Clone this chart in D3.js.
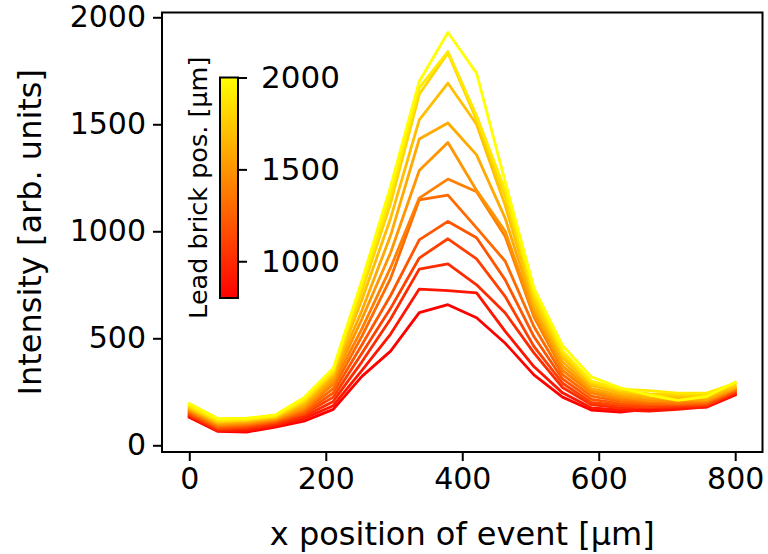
<!DOCTYPE html>
<html>
<head>
<meta charset="utf-8">
<script src="https://cdn.jsdelivr.net/npm/d3@7"></script>
<style>
  body { margin: 0; background: #fff; }
  text { font-family: "DejaVu Sans", sans-serif; fill: #000; }
</style>
</head>
<body>
<div id="chart"></div>
<script>
// x positions of the scan [um]
var xPositions = [0, 42, 84, 126, 168, 211, 253, 295, 337, 379, 421, 463, 505, 547, 589, 632, 674, 716, 758, 800];

// lead brick positions [um], one curve each
var brickPositions = [800, 900, 1000, 1100, 1200, 1300, 1400, 1500, 1600, 1700, 1800, 1900, 2000];

var int800  = [130, 65, 62, 85, 113, 168, 322, 440, 620, 657, 596, 477, 329, 225, 165, 155, 170, 175, 178, 235];
var int900  = [135, 68, 70, 92, 125, 185, 350, 520, 730, 723, 712, 532, 368, 245, 175, 165, 160, 168, 180, 240];
var int1000 = [140, 72, 78, 98, 135, 205, 390, 590, 823, 848, 750, 618, 432, 270, 190, 175, 175, 178, 185, 245];
var int1100 = [145, 78, 85, 105, 145, 225, 430, 640, 875, 965, 871, 695, 462, 290, 200, 185, 180, 185, 190, 250];
var int1200 = [150, 82, 90, 110, 150, 245, 470, 700, 960, 1046, 970, 773, 508, 310, 215, 195, 190, 190, 195, 255];
var int1300 = [155, 88, 95, 115, 160, 265, 510, 780, 1147, 1169, 1016, 860, 555, 330, 230, 205, 195, 195, 200, 258];
var int1400 = [160, 92, 100, 118, 168, 285, 545, 830, 1155, 1244, 1185, 976, 600, 350, 245, 215, 205, 200, 205, 262];
var int1500 = [165, 98, 105, 122, 175, 300, 590, 900, 1284, 1415, 1191, 1000, 618, 370, 255, 225, 210, 210, 210, 266];
var int1600 = [170, 102, 110, 126, 185, 315, 630, 980, 1431, 1506, 1357, 1060, 640, 390, 265, 235, 220, 215, 215, 270];
var int1700 = [175, 108, 115, 130, 195, 330, 680, 1060, 1521, 1692, 1500, 1120, 665, 410, 280, 245, 230, 225, 225, 275];
var int1800 = [180, 112, 118, 134, 205, 340, 720, 1130, 1640, 1833, 1520, 1160, 690, 425, 290, 255, 240, 235, 235, 282];
var int1900 = [185, 118, 122, 137, 212, 350, 745, 1170, 1670, 1840, 1540, 1190, 712, 440, 300, 262, 255, 244, 244, 290];
var int2000 = [195, 125, 127, 142, 222, 360, 770, 1210, 1700, 1929, 1739, 1230, 735, 465, 320, 268, 235, 210, 228, 295];

var intensities = [int800, int900, int1000, int1100, int1200, int1300, int1400,
                   int1500, int1600, int1700, int1800, int1900, int2000];

var xTicks = [0, 200, 400, 600, 800];
var yTicks = [0, 500, 1000, 1500, 2000];
var cbTicks = [1000, 1500, 2000];

var width = 768, height = 554;
var margin = {top: 12.5, right: 5.5, bottom: 102, left: 162};
var plotW = width - margin.left - margin.right,
    plotH = height - margin.top - margin.bottom;

var svg = d3.select("#chart").append("svg")
    .attr("width", width)
    .attr("height", height);

// matplotlib style 5% margins
var xExt = d3.extent(xPositions);
var xPad = (xExt[1] - xExt[0]) * 0.05;
var allY = d3.merge(intensities);
var yExt = d3.extent(allY);
var yPad = (yExt[1] - yExt[0]) * 0.05;

var x = d3.scaleLinear()
    .domain([xExt[0] - xPad, xExt[1] + xPad])
    .range([0, plotW]);
var y = d3.scaleLinear()
    .domain([yExt[0] - yPad, yExt[1] + yPad])
    .range([plotH, 0]);

// autumn colormap: red -> yellow
var cbDomain = d3.extent(brickPositions);
var autumn = function(v) {
    var t = (v - cbDomain[0]) / (cbDomain[1] - cbDomain[0]);
    return d3.rgb(255, Math.round(255 * t), 0).toString();
};

var g = svg.append("g")
    .attr("transform", "translate(" + margin.left + "," + margin.top + ")");

var line = d3.line()
    .x(function(d, i) { return x(xPositions[i]); })
    .y(function(d) { return y(d); });

g.selectAll(".curve")
    .data(intensities)
    .enter()
    .append("path")
    .attr("class", "curve")
    .attr("d", line)
    .attr("fill", "none")
    .attr("stroke", function(d, i) { return autumn(brickPositions[i]); })
    .attr("stroke-width", 2.8)
    .attr("stroke-linejoin", "round")
    .attr("stroke-linecap", "square");

// axes
var xAxis = d3.axisBottom(x).tickValues(xTicks).tickSize(9).tickPadding(7).tickFormat(d3.format("d"));
var yAxis = d3.axisLeft(y).tickValues(yTicks).tickSize(9).tickPadding(7).tickFormat(d3.format("d"));

var xg = g.append("g")
    .attr("transform", "translate(0," + plotH + ")")
    .call(xAxis);
var yg = g.append("g").call(yAxis);

[xg, yg].forEach(function(a) {
    a.select(".domain").remove();
    a.selectAll(".tick line").attr("stroke", "#000").attr("stroke-width", 2);
    a.selectAll(".tick text")
        .style("font-family", "DejaVu Sans")
        .style("font-size", "30px")
        .attr("fill", "#000");
});

// frame
g.append("rect")
    .attr("x", 0).attr("y", 0)
    .attr("width", plotW).attr("height", plotH)
    .attr("fill", "none")
    .attr("stroke", "#000")
    .attr("stroke-width", 2);

// axis labels
svg.append("text")
    .attr("x", margin.left + plotW / 2)
    .attr("y", 545)
    .attr("text-anchor", "middle")
    .style("font-size", "32px")
    .text("x position of event [μm]");

svg.append("text")
    .attr("transform", "translate(41," + (margin.top + plotH / 2) + ") rotate(-90)")
    .attr("text-anchor", "middle")
    .style("font-size", "32px")
    .text("Intensity [arb. units]");

// colorbar inset
var cb = {x: 220, y: 77.5, w: 18, h: 220.5};

var grad = svg.append("defs").append("linearGradient")
    .attr("id", "autumnGrad")
    .attr("x1", 0).attr("y1", 1)
    .attr("x2", 0).attr("y2", 0);
grad.selectAll("stop")
    .data(d3.range(0, 1.0001, 0.1))
    .enter()
    .append("stop")
    .attr("offset", function(d) { return d; })
    .attr("stop-color", function(d) { return autumn(cbDomain[0] + d * (cbDomain[1] - cbDomain[0])); });

svg.append("rect")
    .attr("x", cb.x).attr("y", cb.y)
    .attr("width", cb.w).attr("height", cb.h)
    .attr("fill", "url(#autumnGrad)")
    .attr("stroke", "#000")
    .attr("stroke-width", 2);

var cbScale = d3.scaleLinear().domain(cbDomain).range([cb.y + cb.h, cb.y]);
var cbAxis = d3.axisRight(cbScale).tickValues(cbTicks).tickSize(9).tickPadding(14).tickFormat(d3.format("d"));

var cbg = svg.append("g")
    .attr("transform", "translate(" + (cb.x + cb.w) + ",0)")
    .call(cbAxis);
cbg.select(".domain").remove();
cbg.selectAll(".tick line").attr("stroke", "#000").attr("stroke-width", 2);
cbg.selectAll(".tick text")
    .style("font-family", "DejaVu Sans")
    .style("font-size", "31px")
    .attr("fill", "#000");

svg.append("text")
    .attr("transform", "translate(207," + (cb.y + cb.h / 2) + ") rotate(-90)")
    .attr("text-anchor", "middle")
    .style("font-size", "25.5px")
    .text("Lead brick pos. [μm]");
</script>
</body>
</html>
